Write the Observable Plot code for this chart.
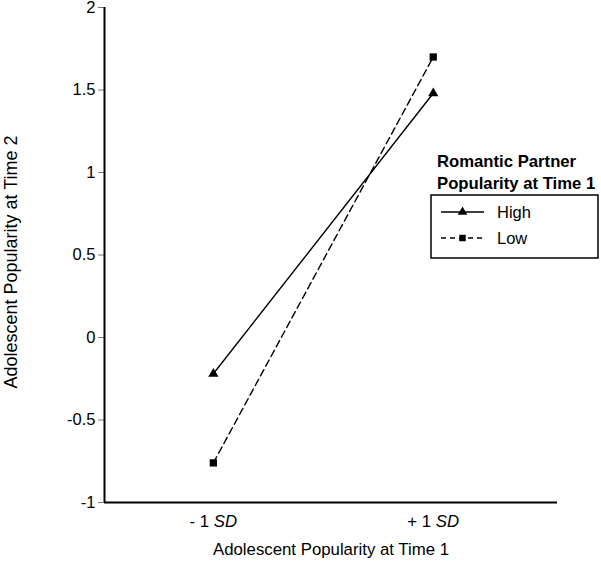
<!DOCTYPE html>
<html>
<head>
<meta charset="utf-8">
<script src="https://cdn.jsdelivr.net/npm/d3@7"></script>
<script src="https://cdn.jsdelivr.net/npm/@observablehq/plot@0.6"></script>
<style>
  body { margin: 0; background: #fff; }
  #chart { position: relative; width: 601px; height: 567px; }
  svg { font-family: "Liberation Sans", Arial, sans-serif; }
</style>
</head>
<body>
<div id="chart"></div>
<script>
// ---- data ----
const xLevels = [-1, 1];
const xTickLabels = ["- 1 SD", "+ 1 SD"];
const groups = ["High", "Low"];
const highValues = [-0.22, 1.48];
const lowValues = [-0.76, 1.70];
const yTicks = [-1, -0.5, 0, 0.5, 1, 1.5, 2];
const yDomain = [-1, 2];
const xDomain = [-1.99, 2.13];
const xTitle = "Adolescent Popularity at Time 1";
const yTitle = "Adolescent Popularity at Time 2";
const legendTitle = ["Romantic Partner", "Popularity at Time 1"];

const highData = xLevels.map((x, i) => ({x, y: highValues[i], g: groups[0]}));
const lowData = xLevels.map((x, i) => ({x, y: lowValues[i], g: groups[1]}));

const fs = 16.5;

const plot = Plot.plot({
  width: 601,
  height: 567,
  marginLeft: 104,
  marginRight: 44,
  marginTop: 7,
  marginBottom: 65,
  style: {fontSize: fs + "px", fontFamily: '"Liberation Sans", Arial, sans-serif', color: "black", background: "white"},
  x: {domain: xDomain},
  y: {domain: yDomain},
  marks: [
    Plot.axisY({ticks: yTicks, tickSize: 6, tickPadding: 3, tickFormat: d => String(d),
      stroke: "#777", label: null, fontSize: fs}),
    Plot.axisX({ticks: xLevels, tickSize: 0, tickPadding: 13, tickFormat: (d) => xTickLabels[xLevels.indexOf(d)],
      label: xTitle, labelAnchor: "center", labelArrow: "none", labelOffset: 52, fontSize: 16.8}),
    Plot.ruleX([xDomain[0]], {stroke: "black", strokeWidth: 2}),
    Plot.ruleY([yDomain[0]], {stroke: "black", strokeWidth: 2}),
    Plot.line(highData, {x: "x", y: "y", stroke: "black", strokeWidth: 1.4}),
    Plot.line(lowData, {x: "x", y: "y", stroke: "black", strokeWidth: 1.4, strokeDasharray: "7,4"}),
    Plot.dot(highData, {x: "x", y: "y", symbol: "triangle", r: 3.8, fill: "black", stroke: "none"}),
    Plot.dot(lowData, {x: "x", y: "y", symbol: "square", r: 4.1, fill: "black", stroke: "none"})
  ]
});

document.getElementById("chart").appendChild(plot);

const svg = d3.select(plot);

// italic "SD" in x tick labels
svg.selectAll('g[aria-label="x-axis tick label"] text').each(function() {
  const t = d3.select(this);
  const s = t.text();
  const m = s.match(/^(.*)(SD)$/);
  if (m) {
    t.text(m[1]);
    t.append("tspan").attr("font-style", "italic").text(m[2]);
  }
});

// y-axis title (rotated)
svg.append("text")
  .attr("transform", "translate(17,262) rotate(-90)")
  .attr("text-anchor", "middle")
  .attr("font-size", 18)
  .attr("fill", "black")
  .text(yTitle);

// legend
const lg = svg.append("g").attr("aria-label", "legend")
  .attr("font-family", '"Liberation Sans", Arial, sans-serif')
  .attr("text-anchor", "start")
  .attr("font-size", fs);
legendTitle.forEach((t, i) => {
  lg.append("text").attr("x", 437).attr("y", 167 + i * 22)
    .attr("font-weight", "bold").attr("font-size", 16.7).attr("fill", "black").text(t);
});
lg.append("rect").attr("x", 431).attr("y", 195).attr("width", 167).attr("height", 63)
  .attr("fill", "white").attr("stroke", "black").attr("stroke-width", 1.5);
const rows = [
  {label: groups[0], dash: null, sym: d3.symbolTriangle, size: 40},
  {label: groups[1], dash: "5,4", sym: d3.symbolSquare, size: 42}
];
rows.forEach((r, i) => {
  const cy = 212 + i * 26;
  lg.append("line").attr("x1", 441).attr("x2", 484).attr("y1", cy).attr("y2", cy)
    .attr("stroke", "black").attr("stroke-width", 1.4)
    .attr("stroke-dasharray", r.dash);
  lg.append("path").attr("transform", `translate(462.5,${cy})`)
    .attr("d", d3.symbol(r.sym, r.size)()).attr("fill", "black");
  lg.append("text").attr("x", 497).attr("y", cy + 6).attr("fill", "black").text(r.label);
});
</script>
</body>
</html>
